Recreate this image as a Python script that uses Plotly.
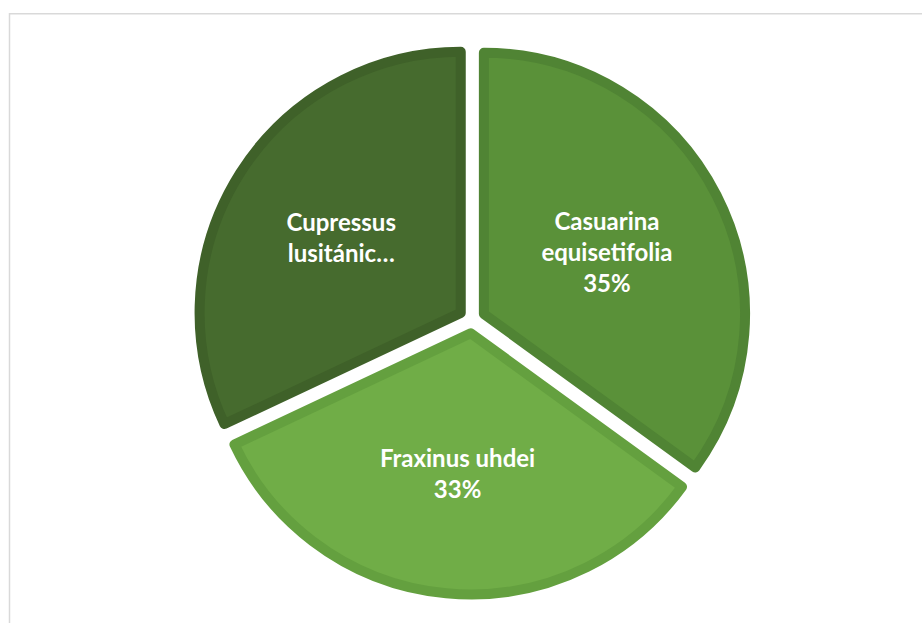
import plotly.graph_objects as go

# Species share of sampled trees
species = ["Casuarina equisetifolia", "Fraxinus uhdei", "Cupressus lusitánica"]
shown_names = ["Casuarina<br>equisetifolia", "Fraxinus uhdei", "Cupressus<br>lusitánic…"]
shares = [35, 33, 32]
show_percent = [True, True, False]

fill_colors = ["#5A9139", "#70AD47", "#466B2E"]
edge_colors = ["#508434", "#64A03F", "#3F6129"]

W, H = 922, 623

total = sum(shares)
slice_text = [
    f"{name}<br>{round(v / total * 100)}%" if pct else name
    for name, v, pct in zip(shown_names, shares, show_percent)
]

# pie placement in pixels (centre and size of the square domain)
cx, cy, side = 472, 320, 549
dom_x = [(cx - side / 2) / W, (cx + side / 2) / W]
dom_y = [(H - cy - side / 2) / H, (H - cy + side / 2) / H]

fig = go.Figure(
    go.Pie(
        labels=species,
        values=shares,
        text=slice_text,
        textinfo="text",
        textposition="inside",
        insidetextorientation="horizontal",
        sort=False,
        direction="clockwise",
        rotation=0,
        pull=[0.051, 0.051, 0.051],
        marker=dict(colors=fill_colors, line=dict(color=edge_colors, width=10)),
        textfont=dict(family="Lato", size=24, color="white", weight="bold"),
        domain=dict(x=dom_x, y=dom_y),
        hoverinfo="label+percent",
    )
)

fig.update_layout(
    width=W,
    height=H,
    margin=dict(l=0, r=0, t=0, b=0),
    paper_bgcolor="white",
    plot_bgcolor="white",
    showlegend=False,
    shapes=[
        dict(
            type="rect",
            xref="paper",
            yref="paper",
            x0=9.5 / W,
            x1=1.05,
            y0=-0.05,
            y1=1 - 13.7 / H,
            line=dict(color="#D9D9D9", width=1.5),
            fillcolor="rgba(0,0,0,0)",
            layer="below",
        )
    ],
)

fig.write_html("out.html")
